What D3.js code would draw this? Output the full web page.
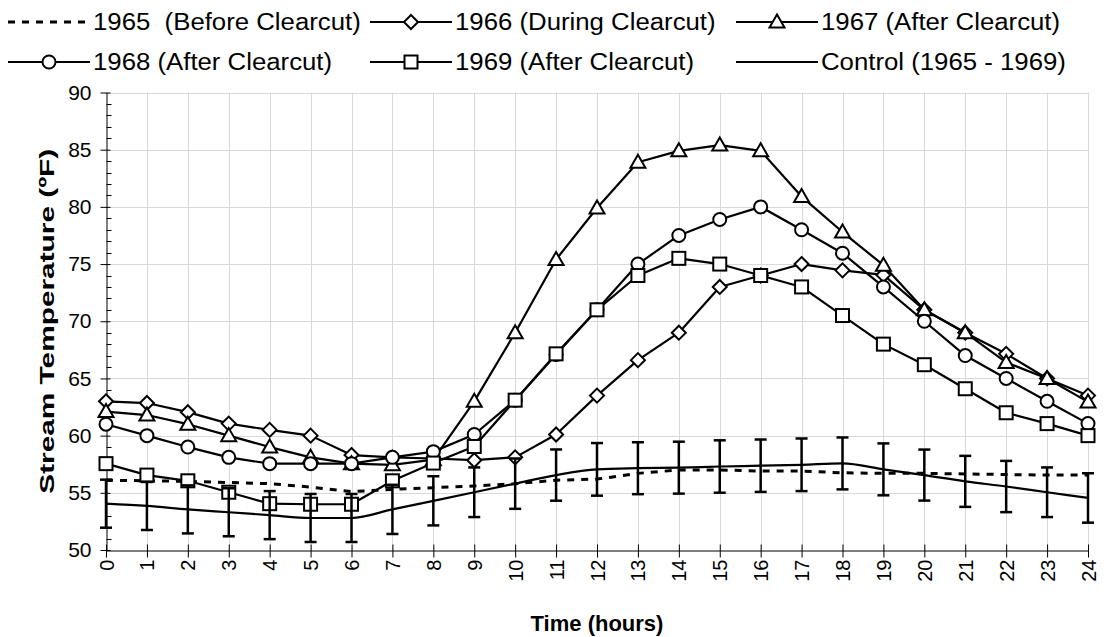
<!DOCTYPE html>
<html>
<head>
<meta charset="utf-8">
<script src="https://cdn.jsdelivr.net/npm/d3@7"></script>
<style>
  html, body { margin: 0; padding: 0; background: #fff; }
  svg { display: block; font-family: "Liberation Sans", Arial, sans-serif; }
  text { white-space: pre; }
</style>
</head>
<body>
<svg id="chart" width="1104" height="637"></svg>
<script>
// ---- data ----
const hours = [0,1,2,3,4,5,6,7,8,9,10,11,12,13,14,15,16,17,18,19,20,21,22,23,24];
const s1965 = [56.1,56.05,56.0,55.9,55.8,55.5,55.1,55.3,55.45,55.6,55.8,56.1,56.2,56.7,57.0,57.0,56.9,56.9,56.75,56.7,56.7,56.65,56.6,56.55,56.55];
const s1966 = [63.0,62.85,62.05,61.05,60.5,60.0,58.3,58.1,58.0,57.85,58.1,60.1,63.5,66.6,69.0,73.0,74.0,75.0,74.45,74.05,71.0,69.0,67.15,65.0,63.5];
const s1967 = [62.1,61.8,61.0,60.0,59.0,58.1,57.55,57.45,57.9,63.0,69.0,75.4,79.9,83.9,84.9,85.4,84.9,80.9,77.8,74.9,71.0,69.0,66.4,65.0,62.95];
const s1968 = [61.0,60.0,59.0,58.1,57.55,57.55,57.55,58.1,58.6,60.1,63.1,67.1,71.0,75.0,77.5,78.9,80.0,78.0,75.95,73.0,70.0,67.0,65.0,63.0,61.05];
const s1969 = [57.55,56.55,56.05,55.05,54.05,54.0,54.0,56.05,57.6,59.05,63.1,67.15,71.0,74.0,75.5,75.0,74.0,73.0,70.5,68.0,66.2,64.1,62.0,61.05,60.0];
const control = [54.05,53.85,53.55,53.3,53.05,52.8,52.8,53.55,54.3,55.05,55.8,56.55,57.05,57.15,57.2,57.3,57.37,57.45,57.57,57.05,56.55,56.0,55.55,55.05,54.55];
const controlErr = [2.1,2.1,2.1,2.1,2.1,2.1,2.1,2.15,2.15,2.17,2.2,2.24,2.3,2.27,2.27,2.29,2.29,2.3,2.27,2.27,2.23,2.23,2.24,2.17,2.16];
const yTicks = [50,55,60,65,70,75,80,85,90];
const yMinor = [51,52,53,54,56,57,58,59,61,62,63,64,66,67,68,69,71,72,73,74,76,77,78,79,81,82,83,84,86,87,88,89];
const legendLabels = ["1965  (Before Clearcut)","1966 (During Clearcut)","1967 (After Clearcut)","1968 (After Clearcut)","1969 (After Clearcut)","Control (1965 - 1969)"];
const xTitle = "Time (hours)";
const yTitle = "Stream Temperature (ºF)";

// ---- layout ----
const svg = d3.select("#chart");
const plot = {left: 106, right: 1088, top: 92.5, bottom: 550};
const x = d3.scaleLinear().domain([0, 24]).range([plot.left, plot.right]);
const y = d3.scaleLinear().domain([50, 90]).range([plot.bottom, plot.top]);
const FONT = "Liberation Sans, Arial, sans-serif";

// grid
const grid = svg.append("g").attr("stroke", "#d9d9d9").attr("stroke-width", 1);
grid.selectAll("line.h").data(yTicks.filter(v => v > 50)).join("line")
  .attr("x1", plot.left).attr("x2", plot.right)
  .attr("y1", d => Math.round(y(d)) + 0.5).attr("y2", d => Math.round(y(d)) + 0.5);
grid.selectAll("line.v").data(hours.filter(h => h > 0)).join("line")
  .attr("y1", plot.top).attr("y2", plot.bottom)
  .attr("x1", d => Math.round(x(d)) + 0.5).attr("x2", d => Math.round(x(d)) + 0.5);

// y axis
const yAxis = svg.append("g").attr("transform", `translate(${Math.round(plot.left) + 0.5},0)`)
  .call(d3.axisLeft(y).tickValues(yTicks).tickSize(6).tickSizeOuter(0));
yAxis.select(".domain").attr("stroke", "#000");
yAxis.selectAll(".tick line").attr("stroke", "#000").attr("x1", 4).attr("x2", -6);
yAxis.selectAll(".tick text").attr("x", -15).attr("font-size", 21).attr("fill", "#000")
  .attr("font-family", FONT);
yAxis.append("g").selectAll("line").data(yMinor).join("line")
  .attr("x1", 0).attr("x2", 5).attr("y1", d => Math.round(y(d)) + 0.5).attr("y2", d => Math.round(y(d)) + 0.5)
  .attr("stroke", "#000");

// x axis
const xAxis = svg.append("g").attr("transform", `translate(0,${Math.round(plot.bottom) + 0.5})`)
  .call(d3.axisBottom(x).tickValues(hours).tickFormat(d3.format("d")).tickSize(7).tickSizeOuter(0));
xAxis.select(".domain").attr("stroke", "#000");
xAxis.selectAll(".tick line").attr("stroke", "#000").attr("y1", -6).attr("y2", 7);
xAxis.selectAll(".tick text")
  .attr("font-size", 20).attr("fill", "#000").attr("font-family", FONT)
  .attr("text-anchor", "end").attr("dy", "0.35em").attr("y", 0)
  .attr("transform", "translate(0,9) rotate(-90)");

// titles
svg.append("text").attr("x", (plot.left + plot.right) / 2).attr("y", 631)
  .attr("text-anchor", "middle").attr("font-weight", "bold").attr("font-size", 22).text(xTitle);
svg.append("text").attr("transform", `translate(54,${(plot.top + plot.bottom) / 2}) rotate(-90)`)
  .attr("text-anchor", "middle").attr("font-weight", "bold").attr("font-size", 21)
  .attr("textLength", 345).attr("lengthAdjust", "spacingAndGlyphs").text(yTitle);

// marker shapes
function marker(g, type, cx, cy) {
  const common = sel => sel.attr("fill", "#fff").attr("stroke", "#000").attr("stroke-width", 2);
  if (type === "diamond") {
    const r = 7;
    common(g.append("path").attr("d", `M${cx},${cy - r}L${cx + r},${cy}L${cx},${cy + r}L${cx - r},${cy}Z`));
  } else if (type === "triangle") {
    const w = 7.5;
    common(g.append("path").attr("d", `M${cx},${cy - 7.5}L${cx + w},${cy + 5.5}L${cx - w},${cy + 5.5}Z`));
  } else if (type === "circle") {
    common(g.append("circle").attr("cx", cx).attr("cy", cy).attr("r", 6.5));
  } else if (type === "square") {
    common(g.append("rect").attr("x", cx - 6.5).attr("y", cy - 6.5).attr("width", 13).attr("height", 13));
  }
}

const line = d3.line().x((d, i) => x(hours[i])).y(d => y(d));

// 1965 dashed
svg.append("path").datum(s1965).attr("d", line).attr("fill", "none")
  .attr("stroke", "#000").attr("stroke-width", 3).attr("stroke-dasharray", "7,7");

const markerSeries = [
  {data: s1966, type: "diamond"},
  {data: s1967, type: "triangle"},
  {data: s1968, type: "circle"},
  {data: s1969, type: "square"}
];
markerSeries.forEach(s => {
  const g = svg.append("g");
  g.append("path").datum(s.data).attr("d", line).attr("fill", "none")
    .attr("stroke", "#000").attr("stroke-width", 2.2).attr("stroke-linejoin", "round");
  s.data.forEach((v, i) => marker(g, s.type, x(hours[i]), y(v)));
});

// control with error bars
const cg = svg.append("g");
cg.append("path").datum(control)
  .attr("d", d3.line().x((d, i) => x(hours[i])).y(d => y(d)).curve(d3.curveMonotoneX))
  .attr("fill", "none").attr("stroke", "#000").attr("stroke-width", 2.2);
const eb = cg.append("g").attr("stroke", "#000").attr("stroke-width", 2.5);
control.forEach((v, i) => {
  const cx = x(hours[i]);
  const y1 = y(v + controlErr[i]), y2 = y(v - controlErr[i]);
  eb.append("line").attr("x1", cx).attr("x2", cx).attr("y1", y1).attr("y2", y2);
  eb.append("line").attr("x1", cx - 6).attr("x2", cx + 6).attr("y1", y1).attr("y2", y1);
  eb.append("line").attr("x1", cx - 6).attr("x2", cx + 6).attr("y1", y2).attr("y2", y2);
});

// legend (line span per column, text uniformly widened)
const legendItems = [
  {label: legendLabels[0], type: "dash",     row: 0, col: 0},
  {label: legendLabels[1], type: "diamond",  row: 0, col: 1},
  {label: legendLabels[2], type: "triangle", row: 0, col: 2},
  {label: legendLabels[3], type: "circle",   row: 1, col: 0},
  {label: legendLabels[4], type: "square",   row: 1, col: 1},
  {label: legendLabels[5], type: "plain",    row: 1, col: 2}
];
const colLine = [[8, 90], [370, 452], [736, 818]];
const rowY = [22, 62];
const lg = svg.append("g");
legendItems.forEach(it => {
  const ly = rowY[it.row];
  const [l0, l1] = colLine[it.col];
  const g = lg.append("g");
  const l = g.append("line").attr("x1", l0).attr("x2", l1).attr("y1", ly).attr("y2", ly).attr("stroke", "#000");
  if (it.type === "dash") l.attr("stroke-width", 3).attr("stroke-dasharray", "7,7");
  else l.attr("stroke-width", 2.2);
  if (!["dash", "plain"].includes(it.type)) marker(g, it.type, (l0 + l1) / 2, ly);
  const t = g.append("text").attr("x", l1 + 3).attr("y", ly).attr("dy", "0.36em")
    .attr("font-size", 23).attr("fill", "#000").attr("font-family", FONT).text(it.label);
  const w = t.node().getComputedTextLength();
  t.attr("textLength", w * 1.12).attr("lengthAdjust", "spacingAndGlyphs");
});
</script>
</body>
</html>
